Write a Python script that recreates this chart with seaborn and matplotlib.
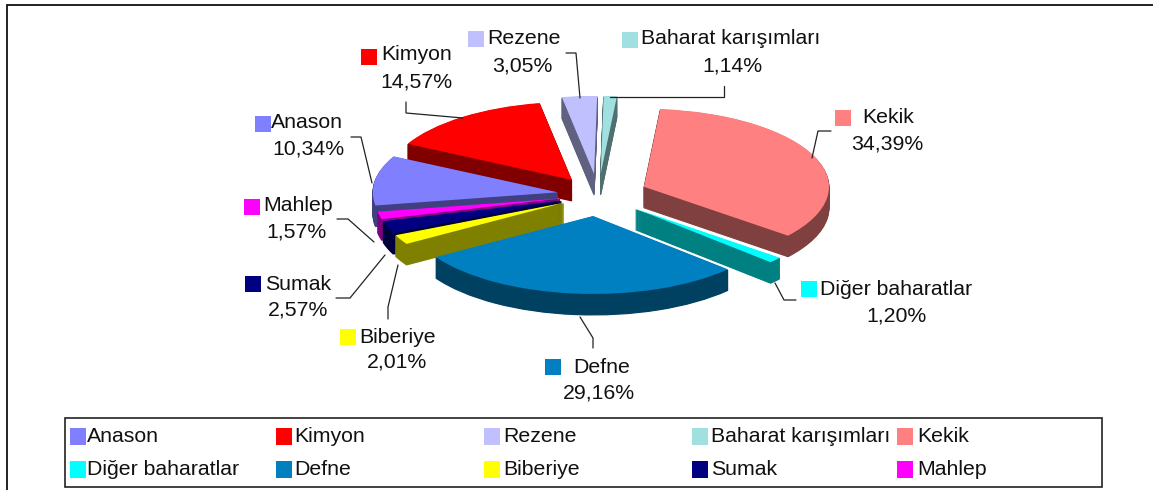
import matplotlib
matplotlib.use("Agg")
import matplotlib.pyplot as plt
from matplotlib.patches import Rectangle
import seaborn as sns

sns.set_theme(style="white")
plt.rcParams['font.family'] = ['Liberation Sans', 'DejaVu Sans']

# ---- data ----
names = ["Anason", "Kimyon", "Rezene", "Baharat karışımları", "Kekik",
         "Diğer baharatlar", "Defne", "Biberiye", "Sumak", "Mahlep"]
shares = [10.34, 14.57, 3.05, 1.14, 34.39, 1.20, 29.16, 2.01, 2.57, 1.57]
share_labels = ["10,34%", "14,57%", "3,05%", "1,14%", "34,39%",
                "1,20%", "29,16%", "2,01%", "2,57%", "1,57%"]
colors = ["#8080FF", "#FF0000", "#C0C0FF", "#A0E0E0", "#FF8080",
          "#00FFFF", "#0080C0", "#FFFF00", "#000080", "#FF00FF"]
explode = [0.22, 0.24, 0.27, 0.27, 0.27, 0.27, 0.27, 0.21, 0.21, 0.21]
# ---- layout (pixels) ----
W, H = 1153, 490
CX, CY, RX, RY, DEPTH = 598, 195, 185, 78, 21
START = 189.7
dark = [tuple(c * 0.5 for c in matplotlib.colors.to_rgb(x)) for x in colors]
# swatch left, swatch top, name x, name y, value centre x, value y
callouts = {
    "Anason": (255, 116, 271, 122, 308, 149),
    "Kimyon": (361, 49, 381, 55, 416, 82),
    "Rezene": (468, 31, 487, 39, 522, 66),
    "Baharat karışımları": (622, 32, 641, 39, 732, 66),
    "Kekik": (835, 110, 862, 117, 887, 144),
    "Diğer baharatlar": (801, 281, 820, 289, 896, 316),
    "Defne": (545, 359, 573, 367, 599, 393),
    "Biberiye": (340, 329, 359, 337, 397, 362),
    "Sumak": (245, 276, 265, 284, 298, 310),
    "Mahlep": (244, 199, 263, 205, 296, 232),
}
leaders = [
    [(351, 137), (361, 137), (372, 183)],
    [(406, 102), (406, 113), (463, 118)],
    [(566, 53), (576, 53), (580, 98)],
    [(610, 97), (724, 97), (724, 86)],
    [(831, 131), (818, 131), (812, 158)],
    [(775, 283), (784, 300), (796, 300)],
    [(580, 317), (593, 338), (593, 348)],
    [(398, 265), (388, 307), (388, 319)],
    [(385, 255), (350, 298), (336, 298)],
    [(337, 219), (348, 219), (374, 242)],
]
legend_x = [70, 276, 484, 692, 897]
legend_text_x = [87, 294, 503, 711, 917]
legend_y = [428, 461]
FS = 15.3

fig = plt.figure(figsize=(W / 100, H / 100), dpi=100, facecolor="white")
ax = fig.add_axes([0, 0, 1, 1])
for d in range(DEPTH, -1, -1):
    wedges, _ = ax.pie(shares, explode=explode, colors=colors if d == 0 else dark,
                       startangle=START, counterclock=False, center=(0, -d / RY))
    for w in wedges:
        if d:
            w.set_edgecolor(w.get_facecolor())
            w.set_linewidth(0.8)
        else:
            w.set_linewidth(0)
ax.set_aspect("auto")
ax.set_xlim(-CX / RX, (W - CX) / RX)
ax.set_ylim(-(H - CY) / RY, CY / RY)

ov = fig.add_axes([0, 0, 1, 1], facecolor="none")
ov.set_xlim(0, W)
ov.set_ylim(H, 0)
ov.axis("off")
ov.plot([6.5, 6.5, W], [H, 5.5, 5.5], color="#111111", lw=1.3, solid_joinstyle="miter")
ov.add_patch(Rectangle((65, 418), 1037, 69, fill=False, ec="#222222", lw=1.2))

for pts in leaders:
    ov.plot(*zip(*pts), color="#222222", lw=0.9, solid_joinstyle="miter")

for name, value, col in zip(names, share_labels, colors):
    sx, sy, tx, ty, vx, vy = callouts[name]
    ov.add_patch(Rectangle((sx, sy), 16, 16, fc=col, ec="none"))
    ov.text(tx, ty, name, fontsize=FS, color="#111111", ha="left", va="center")
    ov.text(vx, vy, value, fontsize=FS, color="#111111", ha="center", va="center")

for i, (name, col) in enumerate(zip(names, colors)):
    x, tx, y = legend_x[i % 5], legend_text_x[i % 5], legend_y[i // 5]
    ov.add_patch(Rectangle((x, y), 16, 16.5, fc=col, ec="none"))
    ov.text(tx, y + 8, name, fontsize=FS, color="#111111", ha="left", va="center")

fig.savefig("out.png", dpi=100)
